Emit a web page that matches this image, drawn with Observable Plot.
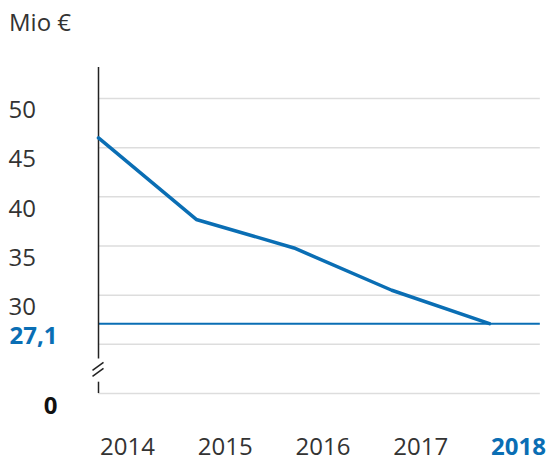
<!DOCTYPE html>
<html>
<head>
<meta charset="utf-8">
<script src="https://cdn.jsdelivr.net/npm/d3@7"></script>
<script src="https://cdn.jsdelivr.net/npm/@observablehq/plot@0.6"></script>
<style>
  html, body { margin: 0; padding: 0; background: #fff; }
  #chart { position: relative; width: 550px; height: 463px; overflow: hidden; }
  #unit { position: absolute; left: 9px; top: 5px; font: 400 24px "Open Sans", sans-serif; color: #333; z-index: 2; }
</style>
</head>
<body>
<div id="chart"><div id="unit">Mio €</div></div>
<script>
// Data
const years = [2014, 2015, 2016, 2017, 2018];
const values = [46.0, 37.7, 34.8, 30.5, 27.1];
const yearLabels = ["2014", "2015", "2016", "2017", "2018"];
const gridValues = [50, 45, 40, 35, 30, 25];
const tickValues = [50, 45, 40, 35, 30];
const tickLabels = ["50", "45", "40", "35", "30"];
const currentValue = 27.1;
const currentLabel = "27,1";
const zeroPos = 20;      // scale position where the broken axis shows 0
const zeroLabel = "0";
const breakAt = 22.4;    // position of the axis break
const axisTop = 53.15;
const xEnd = 2018.52;

const blue = "#0a6eb4";
const dark = "#333333";
const font = "Open Sans, sans-serif";

const data = years.map((y, i) => ({year: y, value: values[i]}));
const ticks = tickValues.map((v, i) => ({v, label: tickLabels[i]}));
const yrs = years.map((y, i) => ({year: y, label: yearLabels[i], last: i === years.length - 1}));

const plot = Plot.plot({
  width: 550,
  height: 463,
  marginLeft: 98,
  marginRight: 61,
  marginTop: 98,
  marginBottom: 70,
  x: {domain: [2014, 2018], axis: null},
  y: {domain: [zeroPos, 50], axis: null},
  style: {fontFamily: font, background: "transparent"},
  marks: [
    // gridlines
    Plot.ruleY(gridValues, {x1: 2014, x2: xEnd, stroke: "#dddddd", strokeWidth: 1.5}),
    Plot.ruleY([zeroPos], {x1: 2014, x2: xEnd, stroke: "#dddddd", strokeWidth: 1.5}),
    // current value reference line
    Plot.ruleY([currentValue], {x1: 2014, x2: xEnd, stroke: blue, strokeWidth: 2}),
    // vertical axis (broken)
    Plot.ruleX([2014], {y1: breakAt + 1.1, y2: axisTop, stroke: "#222", strokeWidth: 1.5}),
    Plot.ruleX([2014], {y1: zeroPos, y2: breakAt - 1.25, stroke: "#222", strokeWidth: 1.5}),
    // series line
    Plot.line(data, {x: "year", y: "value", stroke: blue, strokeWidth: 3.5, strokeLinejoin: "miter"}),
    // y tick labels
    Plot.text(ticks, {x: 2014, y: "v", text: "label", textAnchor: "start", dx: -90, dy: 12,
      fontSize: 24, fill: dark, fontWeight: 400}),
    Plot.text([currentLabel], {x: 2014, y: currentValue, text: d => d, textAnchor: "end", dx: -41, dy: 13,
      fontSize: 24, fill: blue, fontWeight: 700}),
    Plot.text([zeroLabel], {x: 2014, y: zeroPos, text: d => d, textAnchor: "end", dx: -41, dy: 13,
      fontSize: 24, fill: "#111", fontWeight: 700}),
    // x labels
    Plot.text(yrs.filter(d => !d.last), {x: "year", y: zeroPos, text: "label", dx: 29, dy: 54,
      fontSize: 24, fill: dark, fontWeight: 400}),
    Plot.text(yrs.filter(d => d.last), {x: "year", y: zeroPos, text: "label", dx: 29, dy: 54,
      fontSize: 24, fill: blue, fontWeight: 700})
  ]
});

// break marks drawn at the scale position of the break
const xs = plot.scale("x"), ys = plot.scale("y");
const svg = d3.select(plot);
const bx = xs.apply(2014), by = ys.apply(breakAt);
[-3, 3].forEach(o => {
  svg.append("line")
    .attr("x1", bx - 5.5).attr("y1", by + 4 + o)
    .attr("x2", bx + 5.5).attr("y2", by - 4 + o)
    .attr("stroke", "#222").attr("stroke-width", 1.5);
});

document.getElementById("chart").appendChild(plot);
plot.style.position = "absolute";
plot.style.left = "0";
plot.style.top = "0";
</script>
</body>
</html>
